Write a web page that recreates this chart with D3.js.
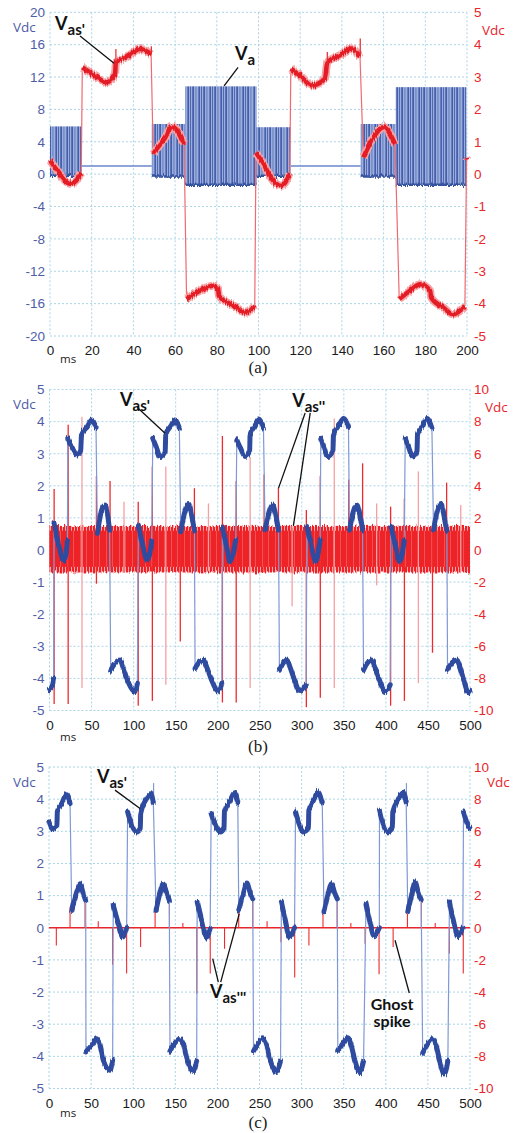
<!DOCTYPE html>
<html>
<head>
<meta charset="utf-8">
<script src="https://cdn.jsdelivr.net/npm/d3@7"></script>
<style>
  body { margin: 0; background: #fff; }
  svg { display: block; }
</style>
</head>
<body>
<svg id="chart" width="516" height="1133"></svg>
<script>
// ---------- data: panel (a), time in ms ----------
var aXTicks = [0, 20, 40, 60, 80, 100, 120, 140, 160, 180, 200];
var aLeftTicks = [-20, -16, -12, -8, -4, 0, 4, 8, 12, 16, 20];
var aRightTicks = [-5, -4, -3, -2, -1, 0, 1, 2, 3, 4, 5];

// Va switching bands: [start, end, low, high] (left axis, V)
var aBlueBands = [
  [0, 15.2, -0.2, 5.9], [48.8, 64.8, -0.3, 6.2], [64.8, 99, -1.3, 10.85],
  [99, 115.5, -0.2, 5.8], [149, 165.8, -0.3, 6.2], [165.8, 199.8, -1.3, 10.75],
  [199.8, 200, -0.2, 5.8]
];
// Va flat parts: [start, end, level]
var aBlueFlat = [[15.2, 48.8, 1.0], [115.5, 149, 1.0]];

// Vas' (right axis)
var aRedSegs = [
  [[0, 0.42], [3, 0.15], [6, -0.12], [9.6, -0.3], [12.5, -0.2], [15, 0.05]],
  [[15.5, 3.3], [19, 3.15], [22.4, 3.0], [27.2, 2.84], [31.2, 3.1], [31.6, 3.46], [36.8, 3.61], [43.2, 3.87], [47.1, 3.77], [48.5, 3.7]],
  [[49.5, 0.63], [52, 0.85], [55, 1.1], [58.4, 1.47], [61, 1.35], [64.3, 0.93]],
  [[65.5, -3.86], [72, -3.6], [78.3, -3.45], [80.6, -3.55], [81, -3.76], [88.5, -4.07], [94, -4.28], [98.2, -4.07]],
  [[98.8, 0.67], [102.3, 0.32], [107, -0.2], [111, -0.36], [115, 0.0]],
  [[115.5, 3.26], [119.9, 3.05], [125.5, 2.74], [131.9, 2.95], [133, 3.46], [139, 3.67], [144.7, 3.88], [148.7, 3.62]],
  [[150.3, 0.52], [154.3, 1.04], [159.9, 1.45], [165.5, 0.93]],
  [[167.5, -3.86], [172.7, -3.6], [177.5, -3.4], [182.3, -3.6], [182.8, -3.81], [188.6, -4.12], [193.4, -4.33], [199, -4.07]],
  [[199.8, 0.5], [200, 0.45]]
];
// short spikes on Vas': [t, from, to]
var aRedSpikes = [[31.6, 3.3, 3.87], [48.6, 3.7, 3.95], [133, 3.3, 3.77], [148.8, 3.6, 4.19]];

// ---------- data: panels (b) and (c) ----------
var bcXTicks = [0, 50, 100, 150, 200, 250, 300, 350, 400, 450, 500];
var bcLeftTicks = [-5, -4, -3, -2, -1, 0, 1, 2, 3, 4, 5];
var bcRightTicks = [-10, -8, -6, -4, -2, 0, 2, 4, 6, 8, 10];

// Vas' in (b) (left axis)
var bBlueSegs = [
  [[0, -4.35], [3, -4.25], [5, -4.0]],
  [[5.4, 0.83], [10.5, 0.21], [16.4, -0.33], [19, -0.2], [21.3, 0.3]],
  [[21.8, 3.48], [26.4, 3.22], [33, 2.96], [37.1, 3.1], [38, 3.58], [45, 3.84], [50.2, 4.05], [55.3, 3.82]],
  [[56.9, 0.52], [62.1, 1.25], [66, 1.4], [68.8, 1.15], [71.4, 0.62]],
  [[72.8, -3.74], [78, -3.53], [83.9, -3.43], [87.8, -3.68], [91.9, -4.0], [101.7, -4.41], [104.5, -4.15]],
  [[105.7, 0.75], [110.5, 0.2], [115.6, -0.3], [119, -0.15], [121.6, 0.3]],
  [[122.8, 3.48], [127, 3.2], [131.5, 2.91], [137.6, 3.08], [138.2, 3.6], [144, 3.85], [149.3, 4.05], [154.4, 3.8]],
  [[156, 0.57], [161, 1.2], [165, 1.45], [168.5, 1.15], [172.3, 0.6]],
  [[173.1, -3.69], [178, -3.5], [183, -3.43], [187, -3.65], [192, -4.0], [200.8, -4.4], [204.9, -4.15]],
  [[205.6, 0.69], [210, 0.2], [214.8, -0.36], [218, -0.15], [221.5, 0.3]],
  [[222.7, 3.43], [227, 3.18], [232.6, 2.91], [238, 3.08], [238.5, 3.6], [244, 3.85], [248.4, 4.08], [254.4, 3.8]],
  [[256.4, 0.62], [261, 1.15], [265.5, 1.4], [268.5, 1.15], [272.3, 0.62]],
  [[273.4, -3.74], [278, -3.52], [282.2, -3.43], [286, -3.65], [290, -3.95], [298, -4.41], [305.2, -4.2]],
  [[306, 0.73], [311, 0.2], [315.9, -0.36], [319, -0.15], [321.8, 0.31]],
  [[322.6, 3.48], [326.5, 3.2], [330.5, 2.91], [337, 3.08], [337.7, 3.6], [344, 3.88], [349.6, 4.1], [355.5, 3.82]],
  [[356.7, 0.62], [361, 1.15], [365.5, 1.4], [368.5, 1.15], [372.2, 0.62]],
  [[373.4, -3.74], [378, -3.52], [383.3, -3.43], [387, -3.65], [391, -3.95], [399.2, -4.41], [405.1, -4.2]],
  [[405.9, 0.73], [411, 0.2], [415.8, -0.36], [419, -0.15], [421.8, 0.3]],
  [[423, 3.48], [427, 3.2], [432.1, 2.9], [437, 3.08], [437.6, 3.6], [443, 3.85], [448.8, 4.1], [454.7, 3.8]],
  [[456.6, 0.62], [461, 1.2], [465.4, 1.45], [468.5, 1.15], [472.5, 0.6]],
  [[473.3, -3.74], [479, -3.5], [484.5, -3.43], [488, -3.65], [492, -4.0], [498.3, -4.45], [500, -4.4]]
];
// Vas'' in (b) (right axis): ripple band and spikes
var bRedBand = [-1.4, 1.5];
var bRedCore = [-1.05, 1.2];
var bSpikeT  = [5.5, 22.2, 38.6, 55.8, 72, 88.6, 105.5, 122.3, 138.3, 155.5, 172.3, 189, 205.6, 222, 238.6,
                255.2, 272.2, 288.5, 305.4, 322, 338.6, 355.8, 372.3, 389, 405.6, 422, 438.6, 455.4, 472.2, 489];
var bSpikeHi = [3.8, 7.8, 8.3, 4.6, 4.3, 3.0, 3.0, 5.2, 5.2, 1.8, 3.85, 2.9, 7.1, 4.3, 5.8,
                4.7, 3.85, 1.5, 2.5, 4.6, 8.2, 4.4, 5.4, 2.9, 2.7, 3.2, 4.9, 1.3, 4.2, 2.8];
var bSpikeLo = [-9.6, -9.6, -8.6, -2.1, -1.3, -1.4, -9.7, -9.4, -8.4, -5.7, -1.3, -1.3, -9.5, -9.5, -8.6,
                -1.4, -1.3, -3.5, -9.8, -9.2, -8.6, -1.4, -1.3, -2.2, -9.7, -9.4, -8.3, -6.4, -1.3, -1.4];

// Vas' in (c) (left axis)
var cBlueSegs = [
  [[0, 3.29], [4, 3.08], [9.4, 3.15], [9.9, 3.65], [15, 3.86], [21, 4.17], [25, 3.86]],
  [[27, 0.54], [32.9, 1.11], [36.8, 1.37], [40.7, 1.06], [43.6, 0.85]],
  [[43.9, -3.86], [50.7, -3.66], [56.6, -3.45], [60.6, -3.66], [64.5, -4.12], [72.4, -4.43], [75.6, -4.12]],
  [[76.3, 0.7], [82.3, 0.13], [87.5, -0.29], [92.2, 0.0]],
  [[93.4, 3.6], [98.2, 3.2], [104.2, 2.98], [108.4, 3.1], [108.9, 3.55], [116, 4.02], [120.8, 4.17], [123.9, 3.9]],
  [[127.1, 0.54], [131, 1.0], [135.7, 1.37], [139.5, 1.1], [142.9, 0.85]],
  [[143.7, -3.84], [149, -3.6], [155.6, -3.45], [160, -3.66], [164, -4.1], [171.4, -4.47], [175.4, -4.15]],
  [[176, 0.8], [181.5, 0.2], [186.7, -0.29], [191.4, -0.05]],
  [[192.6, 3.55], [197.5, 3.2], [203.3, 2.98], [207.9, 3.1], [208.4, 3.6], [215, 3.95], [220.3, 4.2], [224.2, 3.9]],
  [[225.4, 0.54], [230, 1.0], [235, 1.39], [238.8, 1.1], [242, 0.9]],
  [[242.9, -3.84], [248, -3.6], [254, -3.45], [258.5, -3.66], [262.5, -4.1], [269.8, -4.47], [275, -4.15]],
  [[276, 0.8], [281, 0.2], [285.6, -0.29], [291.6, 0.0]],
  [[292.8, 3.6], [297.5, 3.2], [301.5, 2.98], [308.1, 3.1], [308.6, 3.65], [314, 3.95], [319.3, 4.22], [324.5, 3.88]],
  [[326.6, 0.5], [331, 1.0], [335.7, 1.37], [339, 1.1], [342.4, 0.9]],
  [[343, -3.84], [349, -3.6], [354.9, -3.42], [359, -3.66], [363, -4.1], [368.8, -4.5], [373.6, -4.15]],
  [[376.5, 0.75], [381, 0.2], [385.9, -0.25], [392.3, 0.0]],
  [[392.5, 3.65], [397, 3.2], [402.4, 2.98], [407.8, 3.1], [408.3, 3.6], [414, 3.95], [420.2, 4.22], [424.2, 3.9]],
  [[426.1, 0.5], [430.5, 1.0], [434.9, 1.42], [438.5, 1.1], [442, 0.88]],
  [[443.8, -3.9], [449.5, -3.62], [455.6, -3.45], [460, -3.68], [464, -4.15], [469.5, -4.55], [473.7, -4.15]],
  [[475.6, 0.8], [480.5, 0.2], [485.5, -0.25], [491.5, 0.0]],
  [[492.3, 3.6], [497.4, 3.2], [500, 3.1]]
];
var cBlueSpikes = [[124.2, 3.9, 4.5], [424.5, 3.9, 4.5]];
// Vas''' in (c) (right axis): flat trace and spikes [t, value]
var cRedLevel = 0;
var cRedSpikes = [
  [8.7, -1.1], [25, 1.3], [42.8, 1.9], [58.5, 0.4], [75.5, -2.3], [92.2, -2.85], [108.8, -1.2], [126, 1.0],
  [143, 1.9], [159, 0.3], [175.5, -4.1], [191.5, -2.85], [208.5, -1.3], [225.3, 1.0], [242, 1.9], [259, 0.4],
  [275.5, -0.9], [291.8, -3.1], [308.7, -1.1], [325.4, 1.0], [342.2, 1.9], [358.5, 0.3], [375.4, -1.0],
  [392, -2.9], [408.7, -1.2], [425.7, 0.9], [442.2, 1.9], [458.7, 0.3], [475.5, -1.6], [492, -2.85]
];

// ---------- setup ----------
var svg = d3.select("#chart");
var BLUE_TXT = "#4f5da8", RED_TXT = "#e8262b";
var FONT = "'Open Sans', 'Noto Sans', sans-serif";
var LBL = "Lato, 'Liberation Sans', sans-serif";

// scope-like ripple: vertical-only displacement, fast along x
var defs = svg.append("defs");
defs.html(
  '<filter id="jag" filterUnits="userSpaceOnUse" x="0" y="0" width="516" height="1133">' +
  '<feTurbulence type="fractalNoise" baseFrequency="1.1 0.06" numOctaves="2" seed="4" result="n"/>' +
  '<feColorMatrix in="n" type="matrix" values="0 0 0 0 0.5  0 1 0 0 0  0 0 1 0 0  0 0 0 0 1" result="m"/>' +
  '<feDisplacementMap in="SourceGraphic" in2="m" scale="6" xChannelSelector="R" yChannelSelector="G"/>' +
  '</filter>' +
  '<pattern id="pwm" patternUnits="userSpaceOnUse" width="11" height="10">' +
  '<rect width="11" height="10" fill="#9cadde"/>' +
  '<rect x="0.5" width="1.3" height="10" fill="#2e4c9c"/>' +
  '<rect x="3.2" width="0.8" height="10" fill="#3b58a6"/>' +
  '<rect x="5.4" width="1.4" height="10" fill="#2e4c9c"/>' +
  '<rect x="8.6" width="0.7" height="10" fill="#4a66b0"/>' +
  '</pattern>' +
  '<pattern id="rnoise" patternUnits="userSpaceOnUse" width="3" height="10">' +
  '<rect x="0" width="2.2" height="10" fill="#ee2328"/>' +
  '<rect x="2.2" width="0.8" height="10" fill="#f5a0a2"/>' +
  '</pattern>' +
  '<pattern id="rstreak" patternUnits="userSpaceOnUse" width="13" height="10">' +
  '<rect x="2" width="0.7" height="10" fill="#f58d90"/>' +
  '<rect x="8.3" width="0.6" height="10" fill="#f7a2a4"/>' +
  '</pattern>'
);

function panel(p, xTicks, lTicks, rTicks) {
  var x = d3.scaleLinear().domain([xTicks[0], xTicks[xTicks.length - 1]]).range([p.left, p.right]);
  var yL = d3.scaleLinear().domain([lTicks[0], lTicks[lTicks.length - 1]]).range([p.bottom, p.top]);
  var yR = d3.scaleLinear().domain([rTicks[0], rTicks[rTicks.length - 1]]).range([p.bottom, p.top]);
  var g = svg.append("g");

  // dotted grid
  var grid = g.append("g").attr("stroke", "#a9d5e7").attr("stroke-dasharray", "2,2").attr("stroke-width", 1);
  grid.selectAll("line.v").data(xTicks).enter().append("line")
    .attr("x1", function(d) { return x(d); }).attr("x2", function(d) { return x(d); })
    .attr("y1", p.top).attr("y2", p.bottom);
  grid.selectAll("line.h").data(lTicks).enter().append("line")
    .attr("x1", p.left).attr("x2", p.right)
    .attr("y1", function(d) { return yL(d); }).attr("y2", function(d) { return yL(d); });

  // axes (labels only)
  var ax = svg.append("g").attr("font-family", FONT);
  ax.append("g").attr("transform", "translate(" + p.left + ",0)")
    .call(d3.axisLeft(yL).tickValues(lTicks).tickSize(0).tickPadding(5).tickFormat(function(d) { return String(d); }))
    .call(function(s) { s.select(".domain").remove(); s.selectAll("text").attr("fill", BLUE_TXT).attr("font-size", 13.5); });
  ax.append("g").attr("transform", "translate(" + p.right + ",0)")
    .call(d3.axisRight(yR).tickValues(rTicks).tickSize(0).tickPadding(474 - p.right).tickFormat(function(d) { return String(d); }))
    .call(function(s) { s.select(".domain").remove(); s.selectAll("text").attr("fill", RED_TXT).attr("font-size", 13.5); });
  ax.append("g").attr("transform", "translate(0," + p.bottom + ")")
    .call(d3.axisBottom(x).tickValues(xTicks).tickSize(0).tickPadding(9.5).tickFormat(function(d) { return String(d); }))
    .call(function(s) { s.select(".domain").remove(); s.selectAll("text").attr("fill", "#1a1a1a").attr("font-size", 13.5); });

  ax.append("text").attr("x", 13).attr("y", p.vdcL).attr("fill", BLUE_TXT).attr("font-size", 13.5).text("Vdc");
  ax.append("text").attr("x", p.vdcRx).attr("y", p.vdcR).attr("fill", RED_TXT).attr("font-size", 13.5).text("Vdc");
  ax.append("text").attr("x", 60).attr("y", p.ms).attr("fill", "#1a1a1a").attr("font-size", 11.5).text("ms");
  svg.append("text").attr("x", 258).attr("y", p.cap).attr("text-anchor", "middle")
    .attr("font-family", "'Liberation Serif', 'Times New Roman', serif").attr("font-size", 17).attr("fill", "#1a1a1a")
    .text(p.name);
  return { x: x, yL: yL, yR: yR, g: g };
}

function lineOf(x, y) {
  return d3.line().x(function(d) { return x(d[0]); }).y(function(d) { return y(d[1]); }).curve(d3.curveMonotoneX);
}

// connectors (switching edges) between consecutive segments
function connectors(g, segs, x, y, color, w) {
  var pairs = [];
  for (var i = 0; i < segs.length - 1; i++) pairs.push([segs[i][segs[i].length - 1], segs[i + 1][0]]);
  g.append("g").selectAll("line").data(pairs).enter().append("line")
    .attr("x1", function(d) { return x(d[0][0]); }).attr("y1", function(d) { return y(d[0][1]); })
    .attr("x2", function(d) { return x(d[1][0]); }).attr("y2", function(d) { return y(d[1][1]); })
    .attr("stroke", color).attr("stroke-width", w);
}

function label(g, px, py, main, sub) {
  var t = g.append("text").attr("x", px).attr("y", py).attr("font-family", LBL).attr("font-weight", "bold")
    .attr("fill", "#111").attr("font-size", 18);
  t.append("tspan").text(main);
  t.append("tspan").attr("font-size", 15).attr("dy", 5).text(sub);
}
function leader(g, x1, y1, x2, y2) {
  g.append("line").attr("x1", x1).attr("y1", y1).attr("x2", x2).attr("y2", y2)
    .attr("stroke", "#111").attr("stroke-width", 1.3);
}

// ---------- panel (a) ----------
var A = panel({ top: 12.3, bottom: 336, left: 50, right: 467, vdcL: 32, vdcR: 35, vdcRx: 482, ms: 363, cap: 373, name: "(a)" },
  aXTicks, aLeftTicks, aRightTicks);

A.g.append("g").selectAll("rect").data(aBlueBands).enter().append("rect")
  .attr("x", function(d) { return A.x(d[0]); })
  .attr("width", function(d) { return A.x(d[1]) - A.x(d[0]); })
  .attr("y", function(d) { return A.yL(d[3]); })
  .attr("height", function(d) { return A.yL(d[2]) - A.yL(d[3]); })
  .attr("fill", "url(#pwm)");
A.g.append("g").attr("filter", "url(#jag)").selectAll("line").data(aBlueBands).enter().append("line")
  .attr("x1", function(d) { return A.x(d[0]); }).attr("x2", function(d) { return A.x(d[1]); })
  .attr("y1", function(d) { return A.yL(d[2]); }).attr("y2", function(d) { return A.yL(d[2]); })
  .attr("stroke", "#34529f").attr("stroke-width", 2.5);
A.g.append("g").selectAll("line").data(aBlueFlat).enter().append("line")
  .attr("x1", function(d) { return A.x(d[0]); }).attr("x2", function(d) { return A.x(d[1]); })
  .attr("y1", function(d) { return A.yL(d[2]); }).attr("y2", function(d) { return A.yL(d[2]); })
  .attr("stroke", "#6a86cc").attr("stroke-width", 1.5);

connectors(A.g, aRedSegs, A.x, A.yR, "#f06a70", 1.2);
var aLine = lineOf(A.x, A.yR);
A.g.append("g").attr("filter", "url(#jag)").selectAll("path").data(aRedSegs).enter().append("path")
  .attr("d", aLine).attr("fill", "none").attr("stroke", "#f6a4a7").attr("stroke-width", 8);
A.g.append("g").attr("filter", "url(#jag)").selectAll("path").data(aRedSegs).enter().append("path")
  .attr("d", aLine).attr("fill", "none").attr("stroke", "#e41f26").attr("stroke-width", 4.5);
A.g.append("g").selectAll("line").data(aRedSpikes).enter().append("line")
  .attr("x1", function(d) { return A.x(d[0]); }).attr("x2", function(d) { return A.x(d[0]); })
  .attr("y1", function(d) { return A.yR(d[1]); }).attr("y2", function(d) { return A.yR(d[2]); })
  .attr("stroke", "#e8262b").attr("stroke-width", 1.2);

label(A.g, A.x(2.4), A.yL(17.8), "V", "as'");
leader(A.g, A.x(14.4), A.yL(17.06), A.x(30.7), A.yL(13.7));
label(A.g, A.x(88.7), A.yL(14.1), "V", "a");
leader(A.g, A.x(90.2), A.yL(13.2), A.x(83.5), A.yL(10.9));

// ---------- panel (b) ----------
var B = panel({ top: 389.5, bottom: 710.5, left: 49.5, right: 470, vdcL: 409, vdcR: 412, vdcRx: 485, ms: 741, cap: 752, name: "(b)" },
  bcXTicks, bcLeftTicks, bcRightTicks);

B.g.append("rect").attr("x", B.x(0)).attr("width", B.x(500) - B.x(0))
  .attr("y", B.yR(bRedBand[1])).attr("height", B.yR(bRedBand[0]) - B.yR(bRedBand[1]))
  .attr("fill", "url(#rnoise)").attr("filter", "url(#jag)");
B.g.append("rect").attr("x", B.x(0)).attr("width", B.x(500) - B.x(0))
  .attr("y", B.yR(bRedCore[1])).attr("height", B.yR(bRedCore[0]) - B.yR(bRedCore[1]))
  .attr("fill", "#ee2328");
B.g.append("rect").attr("x", B.x(0)).attr("width", B.x(500) - B.x(0))
  .attr("y", B.yR(bRedCore[1])).attr("height", B.yR(bRedCore[0]) - B.yR(bRedCore[1]))
  .attr("fill", "url(#rstreak)").attr("opacity", 0.6);
B.g.append("g").selectAll("line").data(bSpikeT).enter().append("line")
  .attr("x1", function(d) { return B.x(d); }).attr("x2", function(d) { return B.x(d); })
  .attr("y1", function(d, i) { return B.yR(bSpikeLo[i]); }).attr("y2", function(d, i) { return B.yR(bSpikeHi[i]); })
  .attr("stroke", function(d, i) { return i % 3 === 2 ? "#f6a0a3" : "#ee2a2e"; }).attr("stroke-width", 1.3);

connectors(B.g, bBlueSegs, B.x, B.yL, "#8099d4", 1.2);
var bLine = lineOf(B.x, B.yL);
B.g.append("g").attr("filter", "url(#jag)").selectAll("path").data(bBlueSegs).enter().append("path")
  .attr("d", bLine).attr("fill", "none").attr("stroke", "#2d4c9f").attr("stroke-width", 5).attr("stroke-linecap", "round");

label(B.g, B.x(83.9), B.yL(4.49), "V", "as'");
leader(B.g, B.x(104.1), B.yL(4.45), B.x(137.4), B.yL(3.64));
label(B.g, B.x(288.5), B.yL(4.46), "V", "as''");
leader(B.g, B.x(304), B.yL(4.27), B.x(272.2), B.yL(1.92));
leader(B.g, B.x(310), B.yL(4.27), B.x(290), B.yL(0.75));

// ---------- panel (c) ----------
var C = panel({ top: 767, bottom: 1088.5, left: 49, right: 470, vdcL: 787, vdcR: 787, vdcRx: 487, ms: 1117, cap: 1128, name: "(c)" },
  bcXTicks, bcLeftTicks, bcRightTicks);

C.g.append("line").attr("x1", C.x(0)).attr("x2", C.x(500))
  .attr("y1", C.yR(cRedLevel)).attr("y2", C.yR(cRedLevel))
  .attr("stroke", "#e8262b").attr("stroke-width", 1.6);
C.g.append("g").selectAll("line").data(cRedSpikes).enter().append("line")
  .attr("x1", function(d) { return C.x(d[0]); }).attr("x2", function(d) { return C.x(d[0]); })
  .attr("y1", C.yR(cRedLevel)).attr("y2", function(d) { return C.yR(d[1]); })
  .attr("stroke", "#ee2a2e").attr("stroke-width", 1.1);

connectors(C.g, cBlueSegs, C.x, C.yL, "#8099d4", 1.2);
C.g.append("g").selectAll("line").data(cBlueSpikes).enter().append("line")
  .attr("x1", function(d) { return C.x(d[0]); }).attr("x2", function(d) { return C.x(d[0]); })
  .attr("y1", function(d) { return C.yL(d[1]); }).attr("y2", function(d) { return C.yL(d[2]); })
  .attr("stroke", "#8099d4").attr("stroke-width", 1.2);
var cLine = lineOf(C.x, C.yL);
C.g.append("g").attr("filter", "url(#jag)").selectAll("path").data(cBlueSegs).enter().append("path")
  .attr("d", cLine).attr("fill", "none").attr("stroke", "#2d4c9f").attr("stroke-width", 5).attr("stroke-linecap", "round");

label(C.g, C.x(57), C.yL(4.49), "V", "as'");
leader(C.g, C.x(78.4), C.yL(4.28), C.x(108.1), C.yL(3.71));
label(C.g, C.x(191.2), C.yL(-2.19), "V", "as'''");
leader(C.g, C.x(201.1), C.yL(-1.69), C.x(194.4), C.yL(-0.96));
leader(C.g, C.x(203.9), C.yL(-1.69), C.x(226), C.yL(0.44));
C.g.append("text").attr("x", C.x(407.4)).attr("y", C.yL(-2.57)).attr("text-anchor", "middle")
  .attr("font-family", LBL).attr("font-weight", "bold").attr("font-size", 16).attr("fill", "#111").text("Ghost");
C.g.append("text").attr("x", C.x(407.4)).attr("y", C.yL(-3.1)).attr("text-anchor", "middle")
  .attr("font-family", LBL).attr("font-weight", "bold").attr("font-size", 16).attr("fill", "#111").text("spike");
leader(C.g, C.x(427.9), C.yL(-2.03), C.x(411), C.yL(-0.39));
</script>
</body>
</html>
